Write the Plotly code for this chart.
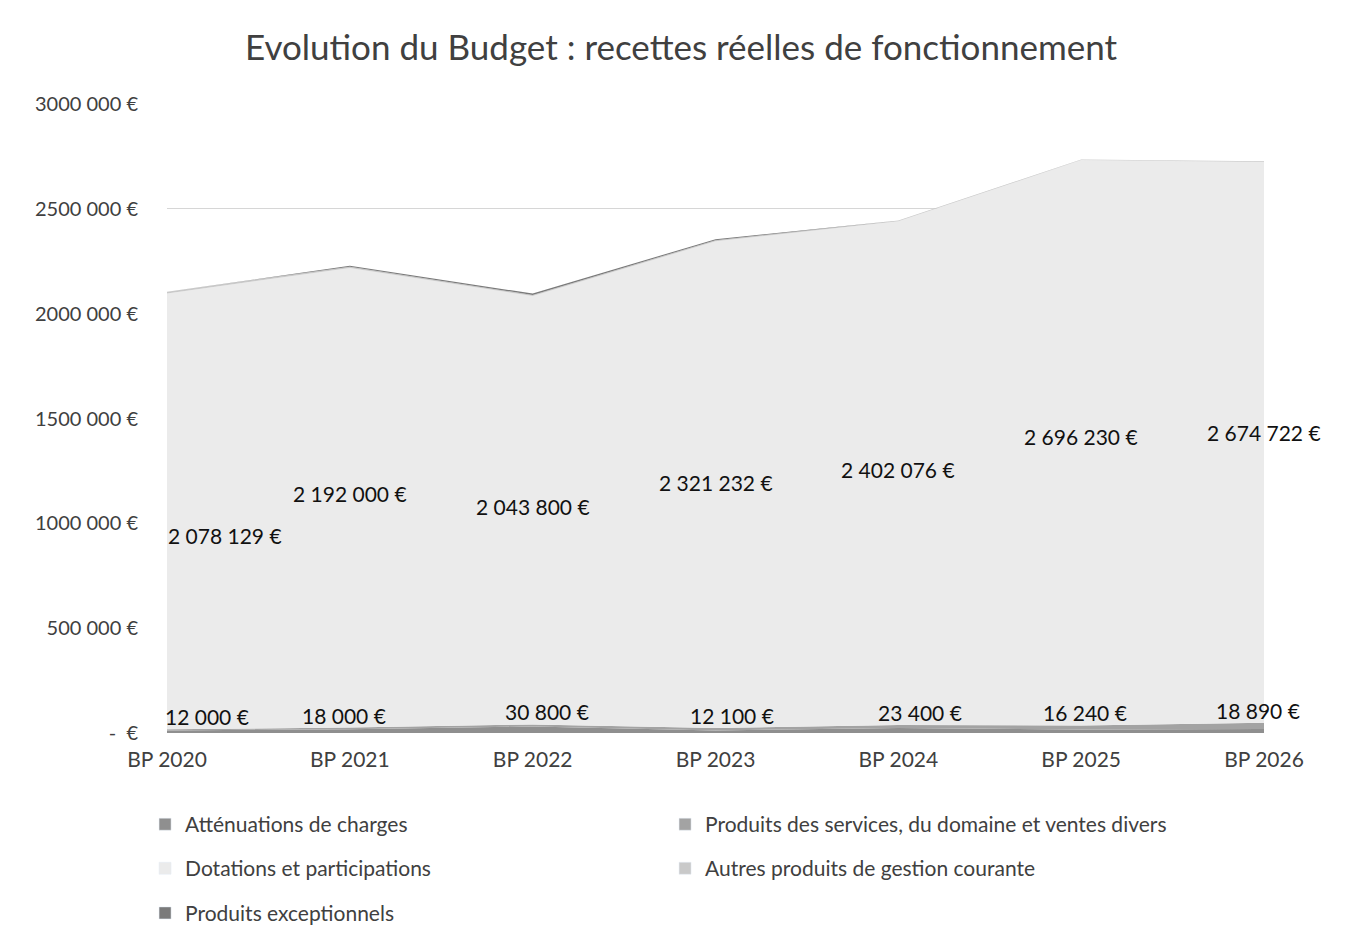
import plotly.graph_objects as go

categories = ["BP 2020", "BP 2021", "BP 2022", "BP 2023", "BP 2024", "BP 2025", "BP 2026"]
attenuations = [12000, 18000, 30800, 12100, 23400, 16240, 18890]
produits_services = [6000, 8000, 10000, 12000, 15000, 20000, 30000]
dotations = [2078129, 2192000, 2043800, 2321232, 2402076, 2696230, 2674722]
autres_produits = [8000, 6000, 5000, 5000, 4000, 3000, 3000]
produits_exceptionnels = [0, 4000, 6000, 5000, 0, 0, 0]

y_tick_vals = [0, 500000, 1000000, 1500000, 2000000, 2500000, 3000000]
y_tick_text = ["-  €", "500 000 €", "1000 000 €", "1500 000 €", "2000 000 €", "2500 000 €", "3000 000 €"]

series = [
    ("Atténuations de charges", attenuations, "#8f8f8f", "legend"),
    ("Produits des services, du domaine et ventes divers", produits_services, "#a3a3a3", "legend"),
    ("Dotations et participations", dotations, "#ebebeb", "legend2"),
    ("Autres produits de gestion courante", autres_produits, "#c9c9c9", "legend2"),
    ("Produits exceptionnels", produits_exceptionnels, "#7a7a7a", "legend3"),
]

def fmt(v):
    return f"{v:,}".replace(",", " ") + " €"

FONT = "Lato, 'Open Sans', sans-serif"
LABEL_COLOR = "#111111"

fig = go.Figure()
for name, vals, color, lg in series:
    fig.add_trace(go.Scatter(
        x=categories, y=vals, name=name, mode="lines",
        stackgroup="one", line=dict(width=0, color=color),
        fillcolor=color, showlegend=False, hoverinfo="x+y+name",
    ))
# legend entries (square swatches)
for name, vals, color, lg in series:
    fig.add_trace(go.Bar(x=[None], y=[None], name=name, marker_color=color, legend=lg))

# data labels
big_xshift = [58, 0, 0, 0, 0, 0, 0]
big_yshift = [-24, 4, 4, 2, 4, 6, 10]
small_xshift = [40, -6, 14, 16, 22, 4, -6]
annotations = []
for i, c in enumerate(categories):
    base = attenuations[i] + produits_services[i]
    annotations.append(dict(
        x=c, y=base + dotations[i] * 0.5, text=fmt(dotations[i]),
        showarrow=False, xshift=big_xshift[i], yshift=big_yshift[i],
        font=dict(size=21, color=LABEL_COLOR, family=FONT),
    ))
    annotations.append(dict(
        x=c, y=base, text=fmt(attenuations[i]), yanchor="bottom",
        showarrow=False, xshift=small_xshift[i], yshift=-2,
        font=dict(size=21, color=LABEL_COLOR, family=FONT),
    ))

legend_common = dict(orientation="h", x=-0.02, xanchor="left", yanchor="top",
                     entrywidth=475, entrywidthmode="pixels", traceorder="normal",
                     font=dict(size=21, color="#404040", family=FONT),
                     bgcolor="rgba(0,0,0,0)")

fig.update_layout(
    width=1346, height=941,
    margin=dict(l=159, r=90, t=96, b=216),
    paper_bgcolor="white", plot_bgcolor="white",
    font=dict(family=FONT, color="#404040"),
    title=dict(text="Evolution du Budget : recettes réelles de fonctionnement",
               x=0.5, xanchor="center", y=0.958, yanchor="middle",
               font=dict(size=35, color="#404040", family=FONT)),
    xaxis=dict(type="category", range=[0, 6], showgrid=False, showline=False,
               ticks="", tickfont=dict(size=21, color="#404040"), ticklabelstandoff=12),
    yaxis=dict(range=[0, 3000000], tickvals=y_tick_vals, ticktext=y_tick_text,
               showgrid=True, gridcolor="#d6d6d6", gridwidth=1, zeroline=False,
               tickfont=dict(size=20, color="#404040"), ticks="", ticklabelstandoff=28),
    annotations=annotations,
    showlegend=True,
    legend=dict(y=-0.113, **legend_common),
    legend2=dict(y=-0.183, **legend_common),
    legend3=dict(y=-0.254, **legend_common),
    shapes=[dict(type="line", xref="paper", yref="paper", x0=1.07, x1=1.07, y0=-0.33, y1=1.16,
                 line=dict(color="#cfcfcf", width=1))],
)

fig.write_html("out.html")
